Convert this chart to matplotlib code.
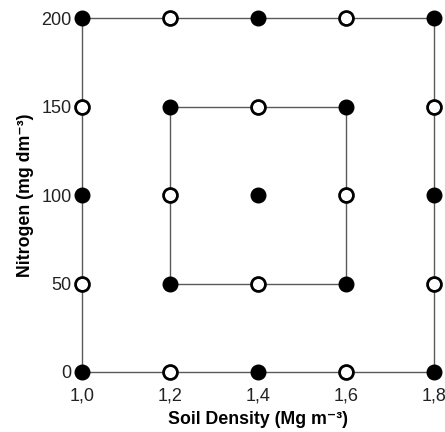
import matplotlib.pyplot as plt
import numpy as np

plt.rcParams['font.family'] = ['Liberation Sans', 'DejaVu Sans']

# outer and inner frames of the sampling design
outer_x = [1.0, 1.8, 1.8, 1.0, 1.0]
outer_y = [0, 0, 200, 200, 0]
inner_x = [1.2, 1.6, 1.6, 1.2, 1.2]
inner_y = [50, 50, 150, 150, 50]

# filled points
full_x = [1.0, 1.4, 1.8, 1.0, 1.4, 1.8, 1.0, 1.8, 1.2, 1.6, 1.2, 1.6, 1.4]
full_y = [0, 0, 0, 200, 200, 200, 100, 100, 50, 50, 150, 150, 100]
# open points
open_x = [1.2, 1.6, 1.2, 1.6, 1.0, 1.0, 1.8, 1.8, 1.4, 1.4, 1.2, 1.6]
open_y = [0, 0, 200, 200, 50, 150, 50, 150, 50, 150, 100, 100]

xticks = [1.0, 1.2, 1.4, 1.6, 1.8]
xticklabels = ['1,0', '1,2', '1,4', '1,6', '1,8']
yticks = [0, 50, 100, 150, 200]

fig = plt.figure(figsize=(4.45, 4.32), dpi=100)
ax = fig.add_axes([0.1843, 0.1389, 0.791, 0.8194])

ax.plot(outer_x, outer_y, '-', color='#5a5a5a', lw=1.0, zorder=1, clip_on=False)
ax.plot(inner_x, inner_y, '-', color='#5a5a5a', lw=1.0, zorder=1, clip_on=False)
ax.plot(full_x, full_y, 'o', color='black', ms=10.5, zorder=3, clip_on=False)
ax.plot(open_x, open_y, 'o', mfc='white', mec='black', mew=2, ms=10, zorder=3, clip_on=False)

ax.set_xlim(1.0, 1.8)
ax.set_ylim(0, 200)
for s in ax.spines.values():
    s.set_visible(False)
ax.set_xticks(xticks)
ax.set_xticklabels(xticklabels)
ax.set_yticks(yticks)
ax.tick_params(length=0, labelsize=13, colors='#222222')
ax.tick_params(axis='x', pad=11)
ax.tick_params(axis='y', pad=7.5)

ax.set_xlabel('Soil Density (Mg m\u207b\u00b3)', fontsize=12.8, fontweight='bold', labelpad=5)
ax.set_ylabel('Nitrogen (mg dm\u207b\u00b3)', fontsize=12.8, fontweight='bold', labelpad=5)

plt.savefig('out.png', dpi=100)
